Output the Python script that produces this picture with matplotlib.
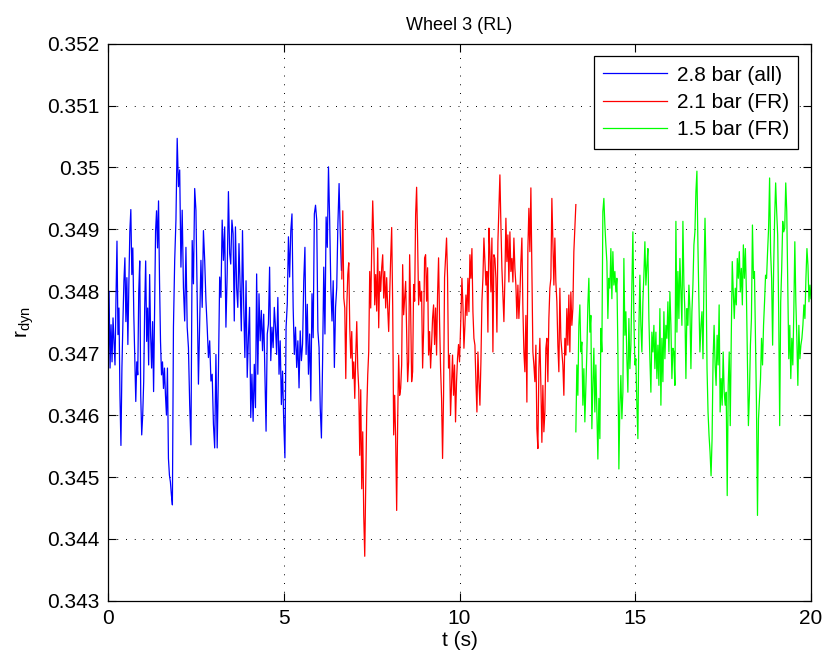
import matplotlib
matplotlib.use("Agg")
import matplotlib.pyplot as plt
import numpy as np
from matplotlib.ticker import FuncFormatter, MultipleLocator

plt.rcParams["font.family"] = ["Liberation Sans", "DejaVu Sans"]
plt.rcParams["mathtext.default"] = "regular"

t_blue = [(0.0, 1.83), (1.86, 3.46), (3.49, 6.64)]
t_red = [(6.65, 10.0), (10.04, 13.31)]
t_green = [(13.31, 16.84), (16.87, 20.0)]

r_blue_a = [
    0.34654, 0.34800, 0.34676, 0.34746, 0.34686, 0.34757, 0.34719, 0.34681, 0.34789, 0.34881,
    0.34730, 0.34773, 0.34632, 0.34551, 0.34676, 0.34751, 0.34816, 0.34854, 0.34751, 0.34822,
    0.34714, 0.34811, 0.34897, 0.34932, 0.34827, 0.34870, 0.34762, 0.34692, 0.34622, 0.34686,
    0.34665, 0.34800, 0.34849, 0.34632, 0.34568, 0.34600, 0.34654, 0.34773, 0.34849, 0.34719,
    0.34773, 0.34681, 0.34827, 0.34730, 0.34676, 0.34751, 0.34638, 0.34768, 0.34897, 0.34930,
    0.34870, 0.34946, 0.34816, 0.34719, 0.34665, 0.34686, 0.34643, 0.34676, 0.34632, 0.34600,
    0.34676, 0.34530, 0.34503, 0.34492, 0.34471, 0.34455,
]
r_blue_b = [
    0.34742, 0.34850, 0.34915, 0.35047,
    0.34969, 0.34996, 0.34839, 0.34931, 0.34806, 0.34752, 0.34871, 0.34742, 0.34709, 0.34617,
    0.34552, 0.34882, 0.34812, 0.34966, 0.34931, 0.34785, 0.34650, 0.34747, 0.34850, 0.34774,
    0.34898, 0.34850, 0.34785, 0.34742, 0.34693, 0.34720, 0.34655, 0.34666, 0.34585, 0.34547,
    0.34698, 0.34547, 0.34671, 0.34823, 0.34790, 0.34915, 0.34850, 0.34904, 0.34742, 0.34828,
    0.34961, 0.34861,
]
r_blue_c = [
    0.34844, 0.34915, 0.34893, 0.34752, 0.34904, 0.34806, 0.34774, 0.34877, 0.34806, 0.34736,
    0.34898, 0.34779, 0.34693, 0.34817, 0.34661, 0.34725, 0.34774, 0.34596, 0.34666, 0.34590,
    0.34682, 0.34612, 0.34828, 0.34666, 0.34796, 0.34720, 0.34769, 0.34704, 0.34763, 0.34666,
    0.34574, 0.34731, 0.34747, 0.34839, 0.34688, 0.34742, 0.34709, 0.34774, 0.34742, 0.34698,
    0.34790, 0.34666, 0.34720, 0.34617, 0.34671, 0.34590, 0.34531, 0.34742, 0.34779, 0.34888,
    0.34823, 0.34898, 0.34925, 0.34774, 0.34698, 0.34742, 0.34677, 0.34720, 0.34644, 0.34736,
    0.34688, 0.34715, 0.34817, 0.34871, 0.34698, 0.34779, 0.34666, 0.34731, 0.34623, 0.34796,
    0.34725, 0.34925, 0.34939, 0.34915, 0.34736, 0.34709, 0.34612, 0.34563, 0.34688, 0.34839,
    0.34731, 0.34920, 0.34871, 0.35001, 0.34915, 0.34806, 0.34752, 0.34817, 0.34677, 0.34774,
    0.34806, 0.34909, 0.34974, 0.34893, 0.34834,
]

r_red_a = [
    0.34820, 0.34930, 0.34789, 0.34773, 0.34659, 0.34773, 0.34827, 0.34846, 0.34741, 0.34692,
    0.34735, 0.34659, 0.34686, 0.34627, 0.34697, 0.34751, 0.34676, 0.34643, 0.34535, 0.34641,
    0.34481, 0.34573, 0.34438, 0.34372, 0.34492, 0.34605, 0.34665, 0.34703, 0.34832, 0.34773,
    0.34870, 0.34946, 0.34886, 0.34778, 0.34827, 0.34768, 0.34870, 0.34741, 0.34832, 0.34800,
    0.34838, 0.34859, 0.34789, 0.34832, 0.34773, 0.34822, 0.34773, 0.34735, 0.34795, 0.34854,
    0.34903, 0.34778, 0.34568, 0.34632, 0.34562, 0.34446, 0.34589, 0.34697, 0.34632, 0.34643,
    0.34681, 0.34843, 0.34762, 0.34789, 0.34816, 0.34735, 0.34654, 0.34686, 0.34859, 0.34773,
    0.34654, 0.34670, 0.34811, 0.34784, 0.34924, 0.34968, 0.34881, 0.34778, 0.34816, 0.34784,
    0.34800, 0.34676, 0.34735, 0.34854, 0.34859, 0.34784, 0.34838, 0.34697, 0.34735, 0.34676,
    0.34714, 0.34757, 0.34778, 0.34714, 0.34773, 0.34697, 0.34795, 0.34854, 0.34751, 0.34676,
    0.34627, 0.34530, 0.34632, 0.34822, 0.34854, 0.34886, 0.34822, 0.34676, 0.34697, 0.34600,
    0.34649, 0.34697, 0.34632, 0.34681, 0.34589, 0.34654, 0.34692, 0.34714, 0.34686,
]
r_red_b = [
    0.34761, 0.34821, 0.34778, 0.34708, 0.34745, 0.34794, 0.34761, 0.34821, 0.34767, 0.34859,
    0.34821, 0.34869, 0.34767, 0.34724, 0.34713, 0.34654, 0.34605, 0.34702, 0.34654, 0.34616,
    0.34686, 0.34783, 0.34821, 0.34886, 0.34848, 0.34810, 0.34832, 0.34734, 0.34902, 0.34864,
    0.34799, 0.34886, 0.34702, 0.34859, 0.34853, 0.34821, 0.34734, 0.34880, 0.34937, 0.34988,
    0.34907, 0.34837, 0.34794, 0.34751, 0.34821, 0.34918, 0.34848, 0.34891, 0.34815, 0.34896,
    0.34832, 0.34853, 0.34815, 0.34886, 0.34837, 0.34810, 0.34756, 0.34810, 0.34756, 0.34794,
    0.34848, 0.34886, 0.34772, 0.34702, 0.34670, 0.34761, 0.34621, 0.34869, 0.34934, 0.34864,
    0.34967, 0.34837, 0.34702, 0.34681, 0.34654, 0.34713, 0.34578, 0.34546, 0.34675, 0.34724,
    0.34648, 0.34556, 0.34648, 0.34573, 0.34605, 0.34708, 0.34724, 0.34654, 0.34756, 0.34805,
    0.34821, 0.34950, 0.34880, 0.34810, 0.34886, 0.34815, 0.34783, 0.34713, 0.34670, 0.34805,
    0.34724, 0.34702, 0.34681, 0.34632, 0.34724, 0.34697, 0.34772, 0.34713, 0.34794, 0.34702,
    0.34799, 0.34745, 0.34772, 0.34864, 0.34902, 0.34940,
]

r_green_a = [
    0.34573, 0.34681, 0.34632, 0.34745, 0.34778, 0.34702, 0.34718, 0.34616, 0.34675, 0.34589,
    0.34648, 0.34702, 0.34778, 0.34821, 0.34734, 0.34761, 0.34578, 0.34648, 0.34708, 0.34605,
    0.34681, 0.34605, 0.34529, 0.34627, 0.34562, 0.34740, 0.34702, 0.34929, 0.34950, 0.34907,
    0.34875, 0.34848, 0.34756, 0.34821, 0.34805, 0.34869, 0.34788, 0.34864, 0.34810, 0.34832,
    0.34799, 0.34821, 0.34708, 0.34513, 0.34616, 0.34664, 0.34594, 0.34637, 0.34853, 0.34729,
    0.34767, 0.34691, 0.34637, 0.34756, 0.34675, 0.34713, 0.34810, 0.34896, 0.34756, 0.34681,
    0.34691, 0.34616, 0.34562, 0.34740, 0.34826, 0.34745, 0.34702, 0.34783, 0.34826, 0.34880,
    0.34810, 0.34842, 0.34869, 0.34756, 0.34691, 0.34637, 0.34734, 0.34702, 0.34745, 0.34675,
    0.34734, 0.34659, 0.34713, 0.34648, 0.34772, 0.34616, 0.34724, 0.34654, 0.34767, 0.34691,
    0.34745, 0.34724, 0.34783, 0.34702, 0.34799, 0.34745, 0.34659, 0.34708, 0.34702, 0.34648,
    0.34913, 0.34734, 0.34832, 0.34756, 0.34853, 0.34799, 0.34745, 0.34913, 0.34810, 0.34767,
    0.34659, 0.34772, 0.34745, 0.34810, 0.34772, 0.34675, 0.34767, 0.34810, 0.34875, 0.34896,
    0.34961, 0.34994, 0.34875, 0.34783, 0.34702,
]
r_green_b = [
    0.34745, 0.34767, 0.34691, 0.34821, 0.34918, 0.34832, 0.34675, 0.34605, 0.34567, 0.34540,
    0.34502, 0.34562, 0.34691, 0.34745, 0.34681, 0.34648, 0.34729, 0.34681, 0.34778, 0.34605,
    0.34659, 0.34616, 0.34702, 0.34637, 0.34616, 0.34637, 0.34470, 0.34648, 0.34702, 0.34583,
    0.34724, 0.34848, 0.34799, 0.34756, 0.34805, 0.34778, 0.34853, 0.34821, 0.34864, 0.34799,
    0.34837, 0.34778, 0.34875, 0.34821, 0.34869, 0.34799, 0.34691, 0.34583, 0.34632, 0.34713,
    0.34756, 0.34907, 0.34821, 0.34832, 0.34724, 0.34616, 0.34438, 0.34594, 0.34627, 0.34659,
    0.34724, 0.34681, 0.34745, 0.34783, 0.34826, 0.34821, 0.34864, 0.34902, 0.34983, 0.34864,
    0.34821, 0.34713, 0.34837, 0.34918, 0.34975, 0.34929, 0.34891, 0.34767, 0.34583, 0.34783,
    0.34837, 0.34913, 0.34896, 0.34902, 0.34975, 0.34929, 0.34810, 0.34691, 0.34745, 0.34659,
    0.34724, 0.34681, 0.34767, 0.34880, 0.34783, 0.34724, 0.34648, 0.34745, 0.34691, 0.34713,
    0.34724, 0.34745, 0.34778, 0.34756, 0.34821, 0.34869, 0.34842, 0.34783, 0.34810, 0.34788,
]

labels = ["2.8 bar (all)", "2.1 bar (FR)", "1.5 bar (FR)"]
colors = ["#0000ff", "#ff0000", "#00ff00"]


def time_axis(spans, pieces):
    return np.concatenate(
        [np.linspace(a, b, len(v)) for (a, b), v in zip(spans, pieces)]
    )


def main() -> None:
    fig = plt.figure(figsize=(8.25, 6.61), dpi=100)
    ax = fig.add_axes([0.131, 0.091, 0.852, 0.843])

    runs = [
        (t_blue, [r_blue_a, r_blue_b, r_blue_c]),
        (t_red, [r_red_a, r_red_b]),
        (t_green, [r_green_a, r_green_b]),
    ]
    for (spans, pieces), lab, col in zip(runs, labels, colors):
        t = time_axis(spans, pieces)
        r = np.concatenate(pieces)
        ax.plot(t, r, color=col, lw=0.9, label=lab)

    ax.set_xlim(0, 20)
    ax.set_ylim(0.343, 0.352)
    ax.xaxis.set_major_locator(MultipleLocator(5))
    ax.yaxis.set_major_locator(MultipleLocator(0.001))
    ax.yaxis.set_major_formatter(FuncFormatter(lambda v, _: f"{round(v, 3):g}"))
    ax.tick_params(direction="in", top=True, right=True, labelsize=15, length=6, pad=6)
    ax.grid(True, color="black", linestyle=(0, (1, 8)), linewidth=0.7)
    for s in ax.spines.values():
        s.set_linewidth(0.9)

    ax.set_title("Wheel 3 (RL)", fontsize=13, pad=10)
    ax.set_xlabel("t (s)", fontsize=15, labelpad=2)
    ax.set_ylabel("r$_{dyn}$", fontsize=15, labelpad=8)

    leg = ax.legend(
        loc="upper right",
        fontsize=15,
        fancybox=False,
        framealpha=1,
        edgecolor="black",
        borderaxespad=0.6,
        handlelength=3.1,
        handletextpad=0.45,
        labelspacing=0.4,
        borderpad=0.45,
    )
    leg.get_frame().set_linewidth(0.9)

    fig.savefig("out.png", dpi=100)


if __name__ == "__main__":
    main()
